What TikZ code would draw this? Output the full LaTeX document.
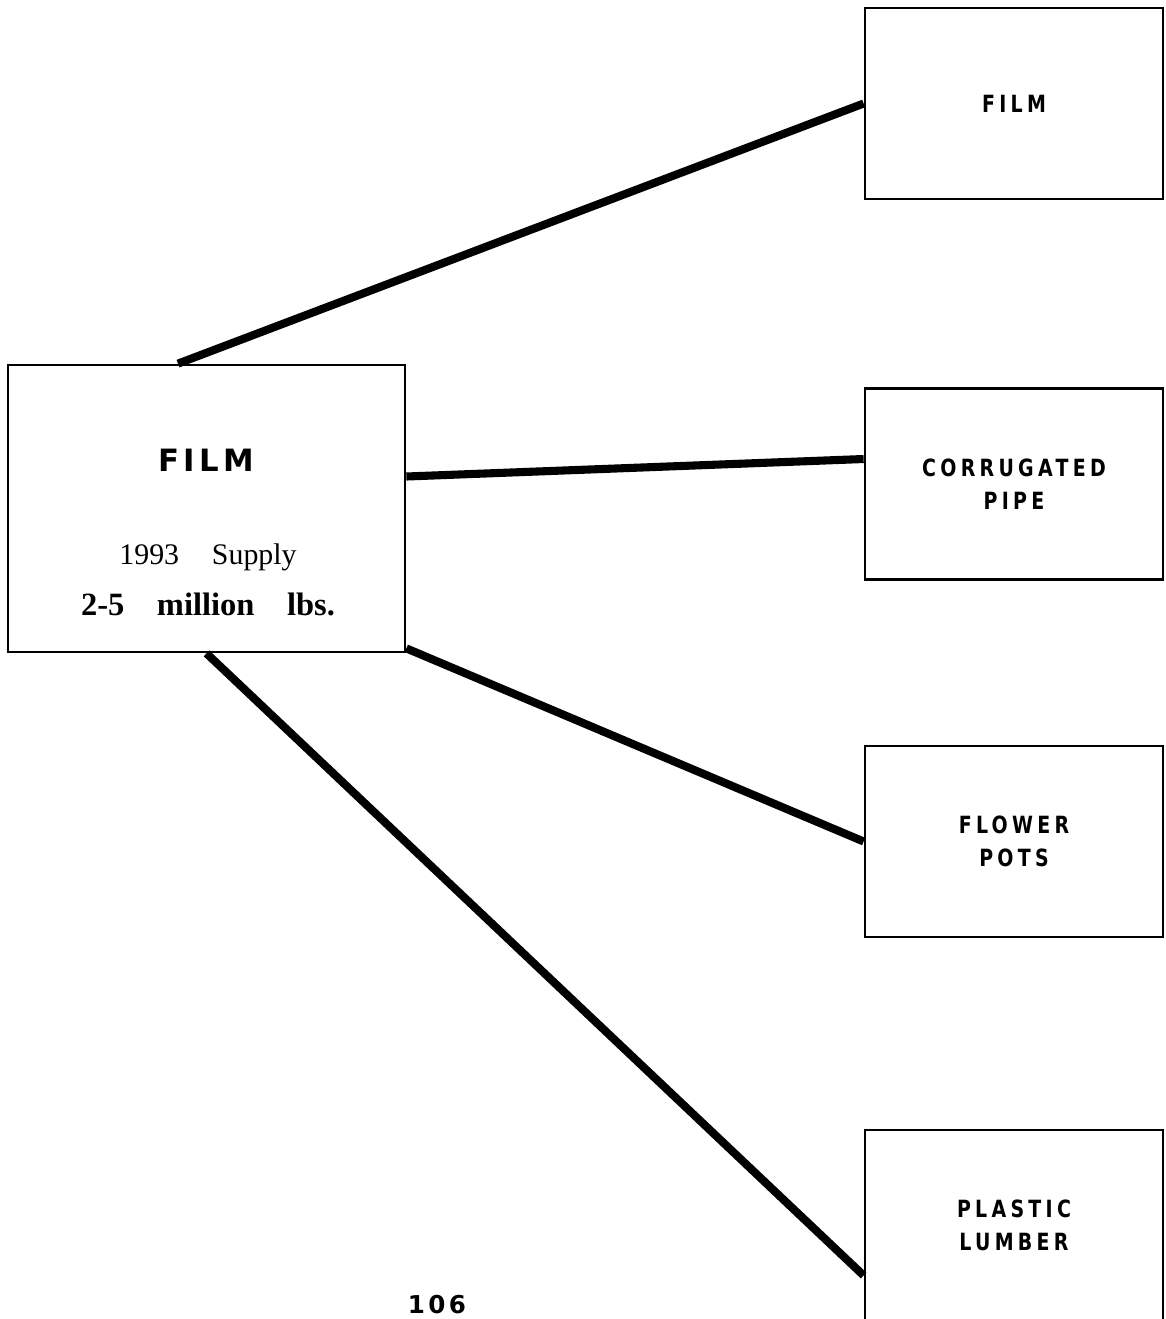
\documentclass[tikz,border=0pt]{standalone}
\usepackage{fontspec}
\setmainfont{Liberation Serif}
\newfontfamily\headfont[LetterSpace=14]{DejaVu Sans}
\newfontfamily\outfont[FakeStretch=0.8,LetterSpace=18]{DejaVu Sans}
\usetikzlibrary{positioning}

\begin{document}
\begin{tikzpicture}[x=0.02cm,y=-0.02cm,
    outbox/.style={draw,line width=1.6pt,align=center,inner sep=0pt,
      minimum width=5.96cm,minimum height=3.82cm,
      font=\outfont\bfseries\fontsize{13.5}{19}\selectfont},
    link/.style={line width=4.6pt}]
    \useasboundingbox (0,0) rectangle (1166,1319);
    % The source box
    \node[draw,line width=1.6pt,minimum width=7.94cm,minimum height=5.74cm,inner sep=0pt]
      (film) at (206.5,508.5) {};
    \node[font=\headfont\bfseries\fontsize{17.5}{20}\selectfont] (filmhead) at (206,460) {FILM};
    \node[font=\fontsize{17}{20}\selectfont] (supply) at (208,557) {1993\hskip1.1em Supply};
    \node[font=\bfseries\fontsize{18.5}{20}\selectfont] (amount) at (208,604)
      {2-5\hskip1em million\hskip1em lbs.};
    % The uses
    \node[outbox] (film2) at (1014,103.5) {FILM};
    \node[outbox] (pipe) at (1014,484) {CORRUGATED\\PIPE};
    \node[outbox] (pots) at (1014,841.5) {FLOWER\\POTS};
    \node[outbox] (lumber) at (1014,1225.5) {PLASTIC\\LUMBER};
    % The links
    \draw[link] ([xshift=-0.57cm]film.north) -- (film2.west);
    \draw[link] ([yshift=0.64cm]film.east) -- ([yshift=0.5cm]pipe.west);
    \draw[link] ([yshift=0.1cm]film.south east) -- (pots.west);
    \draw[link] (film.south) -- ([yshift=-1cm]lumber.west);

    \node[font=\headfont\bfseries\fontsize{14}{16}\selectfont] (page) at (437,1305) {106};
\end{tikzpicture}
\end{document}
